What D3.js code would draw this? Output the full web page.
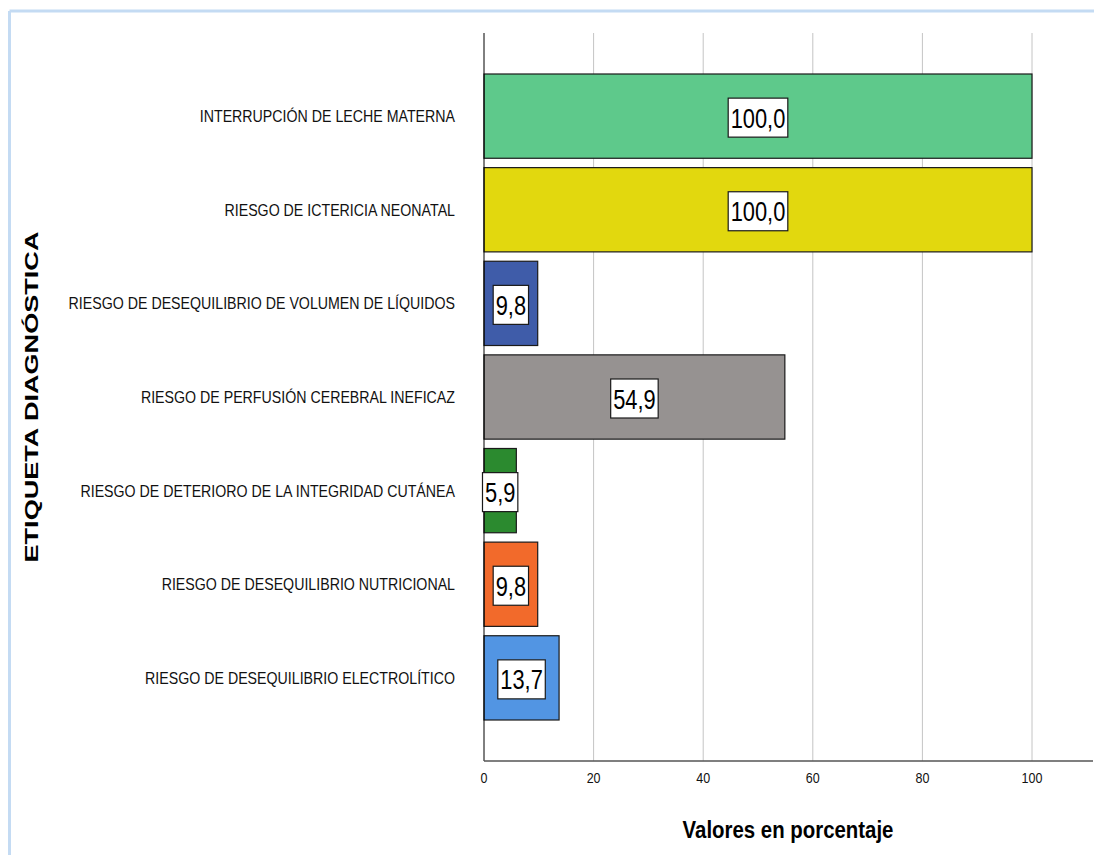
<!DOCTYPE html>
<html>
<head>
<meta charset="utf-8">
<script src="https://cdn.jsdelivr.net/npm/d3@7/dist/d3.min.js"></script>
<style>
  html, body { margin: 0; padding: 0; background: #fff; }
  svg { display: block; }
  text { font-family: "Liberation Sans", Arial, sans-serif; }
</style>
</head>
<body>
<svg id="chart" width="1094" height="855"></svg>
<script>
// Diagnostic labels, top to bottom
const categories = [
  "INTERRUPCIÓN DE LECHE MATERNA",
  "RIESGO DE ICTERICIA NEONATAL",
  "RIESGO DE DESEQUILIBRIO DE VOLUMEN DE LÍQUIDOS",
  "RIESGO DE PERFUSIÓN CEREBRAL INEFICAZ",
  "RIESGO DE DETERIORO DE LA INTEGRIDAD CUTÁNEA",
  "RIESGO DE DESEQUILIBRIO NUTRICIONAL",
  "RIESGO DE DESEQUILIBRIO ELECTROLÍTICO"
];
// Percentage per diagnosis
const values = [100.0, 100.0, 9.8, 54.9, 5.9, 9.8, 13.7];
// Bar fill per diagnosis
const colors = ["#5ec98b", "#e2d80e", "#3f5ca9", "#969291", "#2b8a2f", "#f26a2b", "#5295e3"];
const xTicks = [0, 20, 40, 60, 80, 100];
const xTitle = "Valores en porcentaje";
const yTitle = "ETIQUETA DIAGNÓSTICA";

const svg = d3.select("#chart");
const NARROW = 0.835; // horizontal squeeze that gives a narrow face

// Light blue frame along the top and left edges
svg.append("line").attr("x1", 9.5).attr("x2", 1094).attr("y1", 11).attr("y2", 11)
  .attr("stroke", "#c4dbf3").attr("stroke-width", 3);
svg.append("line").attr("x1", 9.5).attr("x2", 9.5).attr("y1", 11).attr("y2", 855)
  .attr("stroke", "#c4dbf3").attr("stroke-width", 3);

const plotTop = 33, plotBottom = 761;
const x = d3.scaleLinear().domain([0, 100]).range([484, 1032]);
const y = d3.scaleBand().domain(categories).range([74, 720]).paddingInner(0.1).paddingOuter(0);

// Vertical gridlines
svg.append("g").selectAll("line").data(xTicks.filter(t => t > 0)).join("line")
  .attr("x1", d => x(d)).attr("x2", d => x(d))
  .attr("y1", plotTop).attr("y2", plotBottom)
  .attr("stroke", "#c4c4c4").attr("stroke-width", 1);

// Bars
const rows = categories.map((c, i) => ({ c, v: values[i], col: colors[i] }));
svg.append("g").selectAll("rect").data(rows).join("rect")
  .attr("x", x(0)).attr("y", d => y(d.c))
  .attr("width", d => x(d.v) - x(0)).attr("height", y.bandwidth())
  .attr("fill", d => d.col).attr("stroke", "#1a1a1a").attr("stroke-width", 1.2);

// Y axis line
svg.append("line").attr("x1", x(0)).attr("x2", x(0)).attr("y1", plotTop).attr("y2", plotBottom)
  .attr("stroke", "#000").attr("stroke-width", 1);

// X axis line and tick labels
svg.append("line").attr("x1", x(0)).attr("x2", 1093).attr("y1", plotBottom).attr("y2", plotBottom)
  .attr("stroke", "#555").attr("stroke-width", 1.5);
svg.append("g").selectAll("text").data(xTicks).join("text")
  .attr("transform", d => `translate(${x(d)},${plotBottom + 22}) scale(${NARROW},1)`)
  .attr("text-anchor", "middle").attr("font-size", 15).attr("fill", "#111")
  .text(d => d);

// Category labels
svg.append("g").selectAll("text").data(rows).join("text")
  .attr("transform", d => `translate(455,${y(d.c) + y.bandwidth() / 2}) scale(${NARROW},1)`)
  .attr("text-anchor", "end").attr("dominant-baseline", "central")
  .attr("font-size", 17).attr("fill", "#111")
  .text(d => d.c);

// Value labels in white boxes
const fmt = v => v.toFixed(1).replace(".", ",");
const lbl = svg.append("g").selectAll("g").data(rows).join("g")
  .attr("transform", d => `translate(${(x(0) + x(d.v)) / 2},${y(d.c) + y.bandwidth() / 2 + 1.5})`);
lbl.append("text")
  .attr("transform", "scale(0.78,1)")
  .attr("text-anchor", "middle").attr("dominant-baseline", "central")
  .attr("font-size", 28).attr("fill", "#000")
  .text(d => fmt(d.v));
lbl.each(function() {
  const g = d3.select(this);
  const bb = g.select("text").node().getBBox();
  const w = bb.width * 0.78;
  g.insert("rect", "text")
    .attr("x", -w / 2 - 2.5).attr("y", -19.5)
    .attr("width", w + 5).attr("height", 39)
    .attr("fill", "#fff").attr("stroke", "#1a1a1a").attr("stroke-width", 1.2);
});

// Axis titles
svg.append("text")
  .attr("transform", "translate(788,838) scale(0.85,1)")
  .attr("text-anchor", "middle")
  .attr("font-size", 24).attr("font-weight", "bold").attr("fill", "#000")
  .text(xTitle);
svg.append("text")
  .attr("transform", "translate(38,397) rotate(-90)")
  .attr("text-anchor", "middle")
  .attr("font-size", 19).attr("font-weight", "bold").attr("fill", "#000")
  .attr("textLength", 331).attr("lengthAdjust", "spacingAndGlyphs")
  .text(yTitle);
</script>
</body>
</html>
